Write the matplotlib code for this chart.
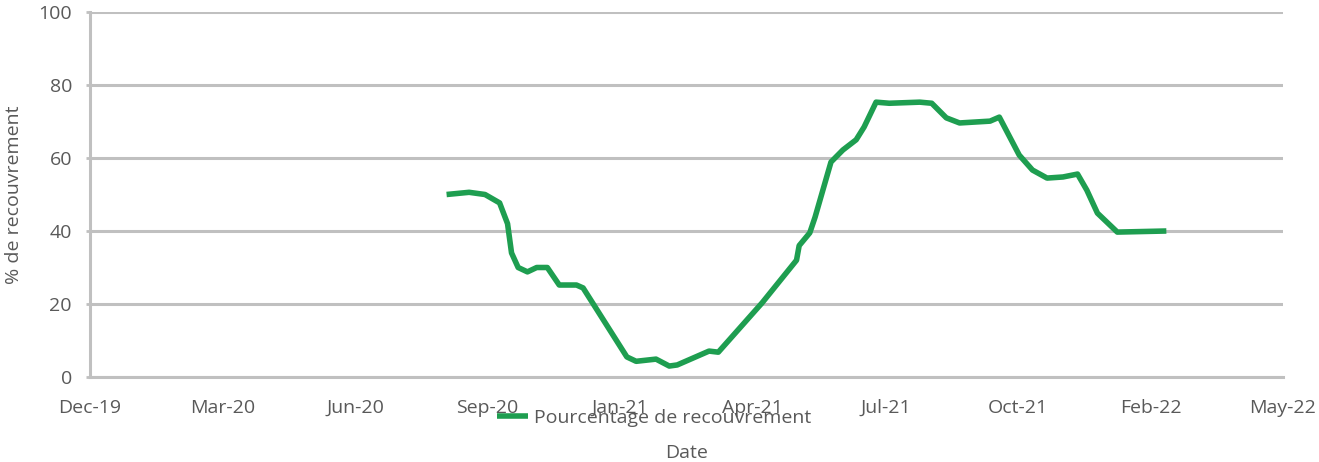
import numpy as np
import matplotlib
matplotlib.use("Agg")
import matplotlib.pyplot as plt
import matplotlib.dates as mdates

# values
dates = ["2020-08-26", "2020-09-12", "2020-09-24", "2020-10-05", "2020-10-11",
         "2020-10-14", "2020-10-19", "2020-10-26", "2020-11-02", "2020-11-10",
         "2020-11-19", "2020-12-02", "2020-12-07", "2021-01-09", "2021-01-16",
         "2021-01-31", "2021-02-10", "2021-02-16", "2021-03-12", "2021-03-19",
         "2021-04-21", "2021-05-17", "2021-05-19", "2021-05-27", "2021-05-31",
         "2021-06-12", "2021-06-21", "2021-07-01", "2021-07-07", "2021-07-16",
         "2021-07-26", "2021-08-18", "2021-08-27", "2021-09-07", "2021-09-17",
         "2021-10-10", "2021-10-17", "2021-11-01", "2021-11-11", "2021-11-22",
         "2021-12-04", "2021-12-15", "2021-12-22", "2021-12-30", "2022-01-14",
         "2022-02-20"]
recouvrement = [50.0, 50.6, 50.0, 47.7, 42.0,
                34.0, 30.0, 28.8, 30.0, 30.0,
                25.2, 25.2, 24.4, 5.5, 4.3,
                4.9, 3.0, 3.3, 7.1, 6.8,
                20.3, 32.0, 36.0, 39.5, 43.8,
                58.9, 62.2, 65.0, 68.5, 75.3,
                75.0, 75.3, 75.0, 71.0, 69.6,
                70.1, 71.2, 60.8, 56.7, 54.5,
                54.8, 55.6, 51.2, 44.9, 39.7,
                40.0]
x_ticks_start = "2019-12-01"
x_ticks_step_days = 100
n_x_ticks = 10
y_ticks = [0, 20, 40, 60, 80, 100]

x = np.array(dates, dtype="datetime64[D]")
ticks = np.datetime64(x_ticks_start) + np.arange(n_x_ticks) * x_ticks_step_days

plt.rcParams['font.family'] = ['Open Sans', 'DejaVu Sans']
grey_txt = '#595959'
grey_line = '#c0c0c0'
fs = 14

fig = plt.figure(figsize=(13.19, 4.62), dpi=100)
ax = fig.add_axes([90 / 1319, 1 - 377 / 462, (1283 - 90) / 1319, (377 - 12) / 462])

ax.plot(x, recouvrement, color='#1e9e50', lw=4, solid_capstyle='butt',
        label='Pourcentage de recouvrement')

ax.set_xlim(ticks[0], ticks[-1])
ax.set_ylim(0, 100)
ax.set_xticks(ticks)
ax.xaxis.set_major_formatter(mdates.DateFormatter('%b-%y'))
ax.set_yticks(y_ticks)
ax.grid(axis='y', color=grey_line, lw=2.2)
ax.set_axisbelow(True)
for s in ['top', 'right']:
    ax.spines[s].set_visible(False)
for s in ['left', 'bottom']:
    ax.spines[s].set_color(grey_line)
    ax.spines[s].set_linewidth(2.2)
ax.tick_params(axis='y', length=3, width=2, color=grey_line, labelcolor=grey_txt,
               labelsize=fs, pad=10)
ax.tick_params(axis='x', length=0, labelcolor=grey_txt, labelsize=fs, pad=16)

ax.set_xlabel('Date', color=grey_txt, fontsize=fs, labelpad=19)
ax.set_ylabel('% de recouvrement', color=grey_txt, fontsize=fs)
ax.yaxis.set_label_coords(-0.056, 0.5)

fig.legend(loc='center', bbox_to_anchor=(654 / 1319, 1 - 418 / 462), frameon=False,
           fontsize=fs, labelcolor=grey_txt, handlelength=1.6, handletextpad=0.3)

fig.savefig('out.png', dpi=100)
